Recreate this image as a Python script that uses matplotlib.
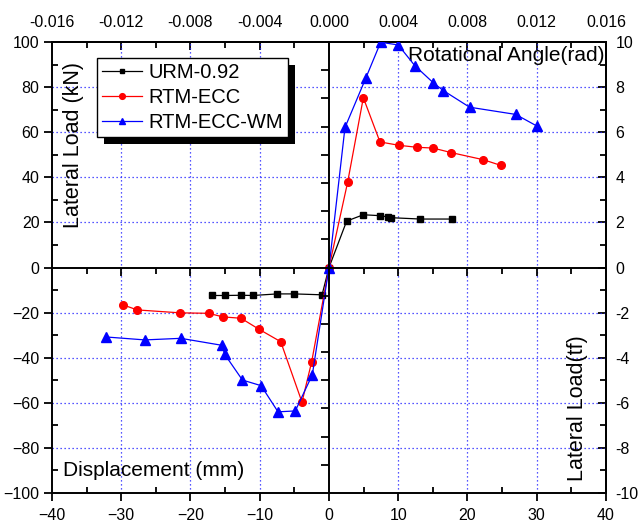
import matplotlib
matplotlib.use("Agg")
import matplotlib.pyplot as plt
from matplotlib.ticker import FixedLocator, FormatStrFormatter, NullFormatter
import matplotlib.patheffects as pe
import numpy as np

plt.rcParams['font.family'] = ['Liberation Sans', 'DejaVu Sans']

# Envelope curves: displacement (mm) vs lateral load (kN)
urm_x = [-16.85, -15.0, -12.7, -10.97, -7.47, -5.01, -1.0, 0.0,
         2.55, 4.96, 7.36, 8.57, 8.95, 13.2, 17.7]
urm_y = [-12.4, -12.4, -12.3, -12.4, -11.7, -11.7, -12.1, 0.0,
         20.6, 23.4, 23.0, 22.4, 22.1, 21.5, 21.5]

ecc_x = [-29.7, -27.7, -21.5, -17.4, -15.3, -12.7, -10.15, -6.97, -3.9, -2.5, 0.0,
         2.69, 4.96, 7.36, 10.1, 12.76, 15.0, 17.6, 22.3, 24.8]
ecc_y = [-16.6, -18.8, -20.1, -20.3, -21.9, -22.5, -27.3, -32.9, -59.7, -41.8, 0.0,
         37.8, 75.3, 55.7, 54.2, 53.3, 53.0, 51.0, 47.8, 45.3]

wm_x = [-32.2, -26.6, -21.4, -15.45, -15.06, -12.5, -9.8, -7.36, -4.87, -2.41, 0.0,
        2.31, 5.3, 7.46, 10.0, 12.4, 15.07, 16.5, 20.3, 26.96, 29.99]
wm_y = [-30.8, -32.1, -31.4, -34.5, -38.5, -49.9, -52.4, -64.0, -63.6, -47.6, 0.0,
        62.1, 83.9, 99.9, 98.7, 89.5, 81.9, 78.5, 71.1, 67.9, 62.8]

series_labels = ["URM-0.92", "RTM-ECC", "RTM-ECC-WM"]

x_ticks = [-40, -30, -20, -10, 0, 10, 20, 30, 40]
y_ticks = [-100, -80, -60, -40, -20, 0, 20, 40, 60, 80, 100]
rad_ticks = [-0.016, -0.012, -0.008, -0.004, 0.0, 0.004, 0.008, 0.012, 0.016]
tf_ticks = [-10, -8, -6, -4, -2, 0, 2, 4, 6, 8, 10]

MM_TO_RAD = 0.0004   # drift angle per mm of displacement
KN_TO_TF = 0.1

fig = plt.figure(figsize=(6.4, 5.26), dpi=100)
pos = [0.08125, 0.0627, 0.8656, 0.8574]
ax = fig.add_axes(pos)

ax.set_xlim(-40, 40)
ax.set_ylim(-100, 100)

# dotted blue grid (not on the zero lines)
for gx in [-30, -20, -10, 10, 20, 30]:
    ax.axvline(gx, color='#2020ff', lw=0.9, ls=(0, (1, 2.2)), zorder=1)
for gy in [-80, -60, -40, -20, 20, 40, 60, 80]:
    ax.axhline(gy, color='#2020ff', lw=0.9, ls=(0, (1, 2.2)), zorder=1)

ax.plot(urm_x, urm_y, color='black', lw=0.9, marker='s', ms=4.5, zorder=4,
        label=series_labels[0])
ax.plot(ecc_x, ecc_y, color='red', lw=0.9, marker='o', ms=5.5, zorder=4,
        label=series_labels[1])
ax.plot(wm_x, wm_y, color='blue', lw=0.9, marker='^', ms=6.5, zorder=4,
        label=series_labels[2])

for s in ax.spines.values():
    s.set_linewidth(1.4)

ax.xaxis.set_major_locator(FixedLocator(x_ticks))
ax.xaxis.set_minor_locator(FixedLocator(np.arange(-35, 40, 10)))
ax.yaxis.set_major_locator(FixedLocator(y_ticks))
ax.yaxis.set_minor_locator(FixedLocator(np.arange(-90, 100, 20)))
ax.tick_params(which='major', direction='out', length=6, width=1.3,
               labelsize=11.5, top=False, right=False)
ax.tick_params(which='minor', direction='in', length=4, width=1.3,
               top=False, right=False)
ax.tick_params(axis='x', which='major', pad=5)
ax.tick_params(axis='y', which='major', pad=3)

# top axis: rotational angle
sec_x = ax.secondary_xaxis('top', functions=(lambda v: v * MM_TO_RAD,
                                             lambda v: v / MM_TO_RAD))
sec_x.xaxis.set_major_locator(FixedLocator(rad_ticks))
sec_x.xaxis.set_minor_locator(FixedLocator(np.arange(-0.014, 0.0150, 0.004)))
sec_x.xaxis.set_major_formatter(FormatStrFormatter('%.3f'))
sec_x.tick_params(which='major', direction='in', length=6, width=1.3,
                  labelsize=11.5, pad=9)
sec_x.tick_params(which='minor', direction='in', length=4, width=1.3)
sec_x.spines['top'].set_linewidth(1.4)

# right axis: lateral load in tf
sec_y = ax.secondary_yaxis('right', functions=(lambda v: v * KN_TO_TF,
                                               lambda v: v / KN_TO_TF))
sec_y.yaxis.set_major_locator(FixedLocator(tf_ticks))
sec_y.yaxis.set_minor_locator(FixedLocator(np.arange(-9, 10, 2)))
sec_y.yaxis.set_major_formatter(FormatStrFormatter('%d'))
sec_y.tick_params(which='major', direction='in', length=6, width=1.3,
                  labelsize=11.5, pad=7)
sec_y.tick_params(which='minor', direction='in', length=4, width=1.3)
sec_y.spines['right'].set_linewidth(1.4)

# zero axes crossing through the origin
axc = fig.add_axes(pos, frameon=True)
axc.patch.set_visible(False)
axc.set_xlim(-40, 40)
axc.set_ylim(-100, 100)
axc.spines['top'].set_visible(False)
axc.spines['right'].set_visible(False)
axc.spines['bottom'].set_position(('data', 0))
axc.spines['left'].set_position(('data', 0))
axc.spines['bottom'].set_linewidth(1.4)
axc.spines['left'].set_linewidth(1.4)
axc.xaxis.set_major_locator(FixedLocator([-30, -20, -10, 10, 20, 30]))
axc.xaxis.set_minor_locator(FixedLocator(np.arange(-35, 40, 10)))
axc.yaxis.set_major_locator(FixedLocator([v for v in np.arange(-87.5, 88, 12.5) if v != 0]))
axc.yaxis.set_minor_locator(FixedLocator([]))
axc.xaxis.set_major_formatter(NullFormatter())
axc.yaxis.set_major_formatter(NullFormatter())
axc.tick_params(axis='x', which='major', direction='out', length=6, width=1.3)
axc.tick_params(axis='x', which='minor', direction='out', length=4, width=1.3)
axc.tick_params(axis='y', which='major', direction='out', length=6, width=1.3)
axc.set_zorder(ax.get_zorder() + 1)

# axis titles placed inside the frame
ax.text(0.038, 0.772, "Lateral Load (kN)", transform=ax.transAxes, rotation=90,
        ha='center', va='center', fontsize=15.5)
ax.text(0.998, 0.971, "Rotational Angle(rad)", transform=ax.transAxes,
        ha='right', va='center', fontsize=15)
ax.text(0.019, 0.049, "Displacement (mm)", transform=ax.transAxes,
        ha='left', va='center', fontsize=15)
ax.text(0.949, 0.188, "Lateral Load(tf)", transform=ax.transAxes, rotation=90,
        ha='center', va='center', fontsize=15.5)

leg = axc.legend(*ax.get_legend_handles_labels(), loc='upper left',
                 bbox_to_anchor=(0.0807, 0.9639), fontsize=14.5, frameon=True,
                 fancybox=False, edgecolor='black', framealpha=1,
                 borderpad=0.25, labelspacing=0.3, handlelength=2.0,
                 handletextpad=0.3, borderaxespad=0, markerscale=0.75)
frame = leg.get_frame()
frame.set_linewidth(1.0)
frame.set_path_effects([pe.SimplePatchShadow(offset=(5, -5), shadow_rgbFace='black',
                                             alpha=1.0), pe.Normal()])

fig.savefig("out.png", dpi=100)
